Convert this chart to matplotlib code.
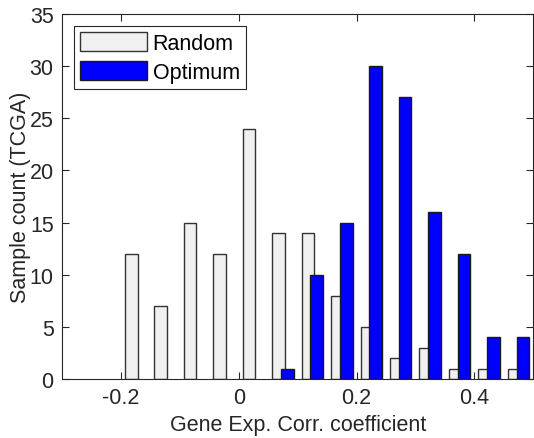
import numpy as np
import matplotlib
matplotlib.use("Agg")
import matplotlib.pyplot as plt

plt.rcParams['font.family'] = ['Liberation Sans', 'DejaVu Sans']
plt.rcParams['axes.unicode_minus'] = False

# bin centres (group centres) and counts
bin_centers = [-0.175, -0.125, -0.075, -0.025, 0.025, 0.075, 0.125,
               0.175, 0.225, 0.275, 0.325, 0.375, 0.425, 0.475]
random_counts = [12, 7, 15, 12, 24, 14, 14, 8, 5, 2, 3, 1, 1, 1]
optimum_counts = [0, 0, 0, 0, 0, 1, 10, 15, 30, 27, 16, 12, 4, 4]

x_ticks = [-0.2, 0, 0.2, 0.4]
x_tick_labels = ["-0.2", "0", "0.2", "0.4"]
y_ticks = [0, 5, 10, 15, 20, 25, 30, 35]

TXT = '#262626'

fig = plt.figure(figsize=(5.34, 4.39), dpi=100)
ax = fig.add_axes([62 / 534, 59 / 439, 471.3 / 534, 365 / 439])

centers = np.array(bin_centers)
w = 0.0215
off = 0.0075
ax.bar(centers - off, random_counts, width=w, color='#f0f0f0',
       edgecolor='#333333', linewidth=1.0, label='Random', zorder=2)
opt = np.array(optimum_counts)
keep = opt > 0
ax.bar(centers[keep] + off, opt[keep], width=w, color='#0000ff',
       edgecolor='#1a1a1a', linewidth=1.0, label='Optimum', zorder=3)

ax.set_xlim(-0.3, 0.5)
ax.set_ylim(0, 35)
ax.set_xticks(x_ticks)
ax.set_xticklabels(x_tick_labels)
ax.set_yticks(y_ticks)
ax.tick_params(direction='in', top=True, right=True, length=5, width=0.8,
               labelsize=15.5, colors=TXT, pad=6)
for s in ax.spines.values():
    s.set_color(TXT)
    s.set_linewidth(0.8)

ax.set_xlabel('Gene Exp. Corr. coefficient', fontsize=15.5, color=TXT, labelpad=4)
ax.set_ylabel('Sample count (TCGA)', fontsize=15.5, color=TXT, labelpad=-1)

leg = ax.legend(loc='upper left', bbox_to_anchor=(12 / 471.3, 1 - 12 / 365),
                borderaxespad=0, fontsize=15.5, handlelength=3.07,
                handleheight=0.98, handletextpad=0.28, labelspacing=0.3,
                borderpad=0.3, fancybox=False, framealpha=1)
leg.get_frame().set_edgecolor(TXT)
leg.get_frame().set_linewidth(0.8)

fig.savefig('out.png', dpi=100)
